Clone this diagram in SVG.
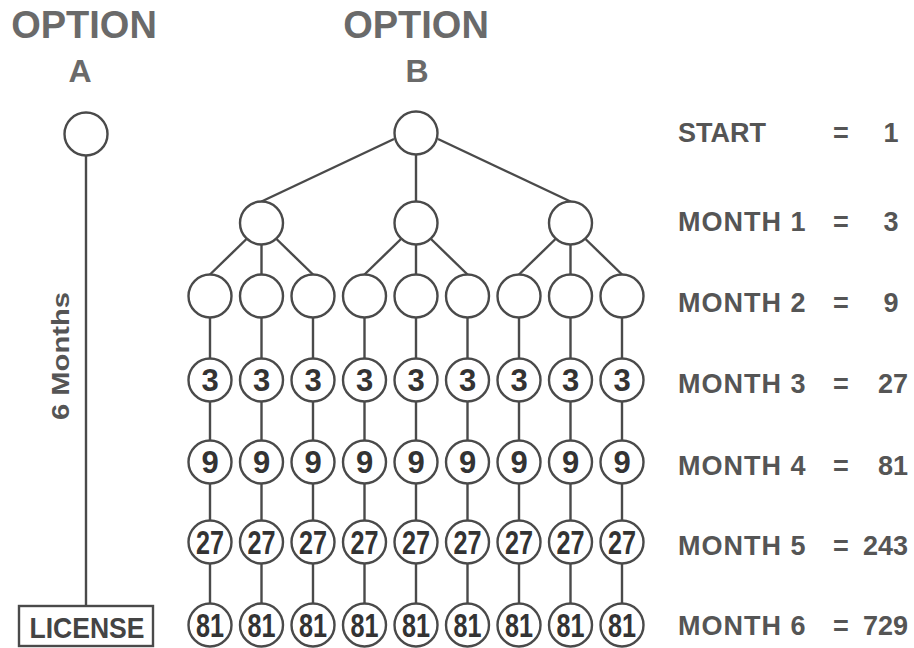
<svg xmlns="http://www.w3.org/2000/svg" width="914" height="648" viewBox="0 0 914 648">
  <style>
    .edge { stroke: #4a4a4a; stroke-width: 2.4; fill: none; }
    .node circle { fill: #ffffff; stroke: #4a4a4a; stroke-width: 2.4; }
    .num { font-family: "Liberation Sans", Arial, sans-serif; font-weight: bold; font-size: 31px; fill: #333333; text-anchor: middle; }
    .num2 { font-family: "Liberation Sans", Arial, sans-serif; font-weight: bold; font-size: 33px; fill: #333333; text-anchor: middle; }
    .title { font-family: "Liberation Sans", Arial, sans-serif; font-weight: bold; fill: #6a6a6a; text-anchor: middle; }
    .lbl { font-family: "Liberation Sans", Arial, sans-serif; font-weight: bold; font-size: 27px; fill: #555555; }
  </style>
  <rect width="914" height="648" fill="#ffffff"/>

  <!-- headings -->
  <text class="title" x="84" y="38" font-size="38">OPTION</text>
  <text class="title" x="80" y="82" font-size="32">A</text>
  <text class="title" x="416" y="38" font-size="38">OPTION</text>
  <text class="title" x="417" y="82" font-size="32">B</text>

  <!-- connectors -->
  <g id="connectors" class="edge">
    <!-- option A timeline -->
    <line x1="86" y1="156" x2="86" y2="606"/>
    <!-- root to month 1 -->
    <line x1="394" y1="139" x2="261.5" y2="201.5"/>
    <line x1="416" y1="155" x2="416" y2="201.5"/>
    <line x1="438" y1="139" x2="570.5" y2="201.5"/>
    <!-- month 1 to month 2 -->
    <line x1="246.5" y1="239" x2="210" y2="274.5"/>
    <line x1="261.5" y1="245" x2="261.5" y2="274.5"/>
    <line x1="276.5" y1="239" x2="313" y2="274.5"/>
    <line x1="401" y1="239" x2="364.5" y2="274.5"/>
    <line x1="416" y1="245" x2="416" y2="274.5"/>
    <line x1="431" y1="239" x2="467.5" y2="274.5"/>
    <line x1="555.5" y1="239" x2="519" y2="274.5"/>
    <line x1="570.5" y1="245" x2="570.5" y2="274.5"/>
    <line x1="585.5" y1="239" x2="622" y2="274.5"/>
    <!-- month 2 to month 6 columns -->
    <line x1="210" y1="296" x2="210" y2="625"/>
    <line x1="261.5" y1="296" x2="261.5" y2="625"/>
    <line x1="313" y1="296" x2="313" y2="625"/>
    <line x1="364.5" y1="296" x2="364.5" y2="625"/>
    <line x1="416" y1="296" x2="416" y2="625"/>
    <line x1="467.5" y1="296" x2="467.5" y2="625"/>
    <line x1="519" y1="296" x2="519" y2="625"/>
    <line x1="570.5" y1="296" x2="570.5" y2="625"/>
    <line x1="622" y1="296" x2="622" y2="625"/>
  </g>

  <!-- option A -->
  <g id="a-start" class="node"><circle cx="86" cy="134" r="21.5"/></g>
  <g id="a-license">
    <rect x="19" y="606" width="134" height="40" fill="#ffffff" stroke="#4a4a4a" stroke-width="2.4"/>
    <text x="87" y="638" font-family="Liberation Sans, Arial, sans-serif" font-weight="bold" font-size="30" fill="#444444" text-anchor="middle" textLength="115" lengthAdjust="spacingAndGlyphs">LICENSE</text>
  </g>
  <text x="69" y="356" transform="rotate(-90 69 356)" font-family="Liberation Sans, Arial, sans-serif" font-weight="bold" font-size="23" fill="#555555" text-anchor="middle" textLength="128" lengthAdjust="spacingAndGlyphs">6 Months</text>

  <!-- option B: start and months 1-2 -->
  <g id="b-root" class="node"><circle cx="416" cy="133" r="21.5"/></g>
  <g id="m1-1" class="node"><circle cx="261.5" cy="223" r="21.5"/></g>
  <g id="m1-2" class="node"><circle cx="416" cy="223" r="21.5"/></g>
  <g id="m1-3" class="node"><circle cx="570.5" cy="223" r="21.5"/></g>
  <g id="m2-1" class="node"><circle cx="210" cy="296" r="21.5"/></g>
  <g id="m2-2" class="node"><circle cx="261.5" cy="296" r="21.5"/></g>
  <g id="m2-3" class="node"><circle cx="313" cy="296" r="21.5"/></g>
  <g id="m2-4" class="node"><circle cx="364.5" cy="296" r="21.5"/></g>
  <g id="m2-5" class="node"><circle cx="416" cy="296" r="21.5"/></g>
  <g id="m2-6" class="node"><circle cx="467.5" cy="296" r="21.5"/></g>
  <g id="m2-7" class="node"><circle cx="519" cy="296" r="21.5"/></g>
  <g id="m2-8" class="node"><circle cx="570.5" cy="296" r="21.5"/></g>
  <g id="m2-9" class="node"><circle cx="622" cy="296" r="21.5"/></g>

  <!-- month 3 -->
  <g id="m3-1" class="node"><circle cx="210" cy="380" r="21.5"/><text class="num" x="210" y="391">3</text></g>
  <g id="m3-2" class="node"><circle cx="261.5" cy="380" r="21.5"/><text class="num" x="261.5" y="391">3</text></g>
  <g id="m3-3" class="node"><circle cx="313" cy="380" r="21.5"/><text class="num" x="313" y="391">3</text></g>
  <g id="m3-4" class="node"><circle cx="364.5" cy="380" r="21.5"/><text class="num" x="364.5" y="391">3</text></g>
  <g id="m3-5" class="node"><circle cx="416" cy="380" r="21.5"/><text class="num" x="416" y="391">3</text></g>
  <g id="m3-6" class="node"><circle cx="467.5" cy="380" r="21.5"/><text class="num" x="467.5" y="391">3</text></g>
  <g id="m3-7" class="node"><circle cx="519" cy="380" r="21.5"/><text class="num" x="519" y="391">3</text></g>
  <g id="m3-8" class="node"><circle cx="570.5" cy="380" r="21.5"/><text class="num" x="570.5" y="391">3</text></g>
  <g id="m3-9" class="node"><circle cx="622" cy="380" r="21.5"/><text class="num" x="622" y="391">3</text></g>

  <!-- month 4 -->
  <g id="m4-1" class="node"><circle cx="210" cy="462" r="21.5"/><text class="num" x="210" y="473">9</text></g>
  <g id="m4-2" class="node"><circle cx="261.5" cy="462" r="21.5"/><text class="num" x="261.5" y="473">9</text></g>
  <g id="m4-3" class="node"><circle cx="313" cy="462" r="21.5"/><text class="num" x="313" y="473">9</text></g>
  <g id="m4-4" class="node"><circle cx="364.5" cy="462" r="21.5"/><text class="num" x="364.5" y="473">9</text></g>
  <g id="m4-5" class="node"><circle cx="416" cy="462" r="21.5"/><text class="num" x="416" y="473">9</text></g>
  <g id="m4-6" class="node"><circle cx="467.5" cy="462" r="21.5"/><text class="num" x="467.5" y="473">9</text></g>
  <g id="m4-7" class="node"><circle cx="519" cy="462" r="21.5"/><text class="num" x="519" y="473">9</text></g>
  <g id="m4-8" class="node"><circle cx="570.5" cy="462" r="21.5"/><text class="num" x="570.5" y="473">9</text></g>
  <g id="m4-9" class="node"><circle cx="622" cy="462" r="21.5"/><text class="num" x="622" y="473">9</text></g>

  <!-- month 5 -->
  <g id="m5-1" class="node"><circle cx="210" cy="542" r="21.5"/><text class="num2" x="210" y="554" textLength="28" lengthAdjust="spacingAndGlyphs">27</text></g>
  <g id="m5-2" class="node"><circle cx="261.5" cy="542" r="21.5"/><text class="num2" x="261.5" y="554" textLength="28" lengthAdjust="spacingAndGlyphs">27</text></g>
  <g id="m5-3" class="node"><circle cx="313" cy="542" r="21.5"/><text class="num2" x="313" y="554" textLength="28" lengthAdjust="spacingAndGlyphs">27</text></g>
  <g id="m5-4" class="node"><circle cx="364.5" cy="542" r="21.5"/><text class="num2" x="364.5" y="554" textLength="28" lengthAdjust="spacingAndGlyphs">27</text></g>
  <g id="m5-5" class="node"><circle cx="416" cy="542" r="21.5"/><text class="num2" x="416" y="554" textLength="28" lengthAdjust="spacingAndGlyphs">27</text></g>
  <g id="m5-6" class="node"><circle cx="467.5" cy="542" r="21.5"/><text class="num2" x="467.5" y="554" textLength="28" lengthAdjust="spacingAndGlyphs">27</text></g>
  <g id="m5-7" class="node"><circle cx="519" cy="542" r="21.5"/><text class="num2" x="519" y="554" textLength="28" lengthAdjust="spacingAndGlyphs">27</text></g>
  <g id="m5-8" class="node"><circle cx="570.5" cy="542" r="21.5"/><text class="num2" x="570.5" y="554" textLength="28" lengthAdjust="spacingAndGlyphs">27</text></g>
  <g id="m5-9" class="node"><circle cx="622" cy="542" r="21.5"/><text class="num2" x="622" y="554" textLength="28" lengthAdjust="spacingAndGlyphs">27</text></g>

  <!-- month 6 -->
  <g id="m6-1" class="node"><circle cx="210" cy="625" r="21.5"/><text class="num2" x="210" y="637" textLength="28" lengthAdjust="spacingAndGlyphs">81</text></g>
  <g id="m6-2" class="node"><circle cx="261.5" cy="625" r="21.5"/><text class="num2" x="261.5" y="637" textLength="28" lengthAdjust="spacingAndGlyphs">81</text></g>
  <g id="m6-3" class="node"><circle cx="313" cy="625" r="21.5"/><text class="num2" x="313" y="637" textLength="28" lengthAdjust="spacingAndGlyphs">81</text></g>
  <g id="m6-4" class="node"><circle cx="364.5" cy="625" r="21.5"/><text class="num2" x="364.5" y="637" textLength="28" lengthAdjust="spacingAndGlyphs">81</text></g>
  <g id="m6-5" class="node"><circle cx="416" cy="625" r="21.5"/><text class="num2" x="416" y="637" textLength="28" lengthAdjust="spacingAndGlyphs">81</text></g>
  <g id="m6-6" class="node"><circle cx="467.5" cy="625" r="21.5"/><text class="num2" x="467.5" y="637" textLength="28" lengthAdjust="spacingAndGlyphs">81</text></g>
  <g id="m6-7" class="node"><circle cx="519" cy="625" r="21.5"/><text class="num2" x="519" y="637" textLength="28" lengthAdjust="spacingAndGlyphs">81</text></g>
  <g id="m6-8" class="node"><circle cx="570.5" cy="625" r="21.5"/><text class="num2" x="570.5" y="637" textLength="28" lengthAdjust="spacingAndGlyphs">81</text></g>
  <g id="m6-9" class="node"><circle cx="622" cy="625" r="21.5"/><text class="num2" x="622" y="637" textLength="28" lengthAdjust="spacingAndGlyphs">81</text></g>

  <!-- totals per month -->
  <g id="totals" class="lbl">
    <text x="678" y="142">START</text>
    <text x="841" y="142" text-anchor="middle">=</text>
    <text x="891" y="142" text-anchor="middle">1</text>

    <text x="678" y="231" letter-spacing="1">MONTH 1</text>
    <text x="841" y="231" text-anchor="middle">=</text>
    <text x="891" y="231" text-anchor="middle">3</text>

    <text x="678" y="312" letter-spacing="1">MONTH 2</text>
    <text x="841" y="312" text-anchor="middle">=</text>
    <text x="891" y="312" text-anchor="middle">9</text>

    <text x="678" y="393" letter-spacing="1">MONTH 3</text>
    <text x="841" y="393" text-anchor="middle">=</text>
    <text x="908" y="393" text-anchor="end">27</text>

    <text x="678" y="475" letter-spacing="1">MONTH 4</text>
    <text x="841" y="475" text-anchor="middle">=</text>
    <text x="908" y="475" text-anchor="end">81</text>

    <text x="678" y="555" letter-spacing="1">MONTH 5</text>
    <text x="841" y="555" text-anchor="middle">=</text>
    <text x="908" y="555" text-anchor="end">243</text>

    <text x="678" y="635" letter-spacing="1">MONTH 6</text>
    <text x="841" y="635" text-anchor="middle">=</text>
    <text x="908" y="635" text-anchor="end">729</text>
  </g>
</svg>
